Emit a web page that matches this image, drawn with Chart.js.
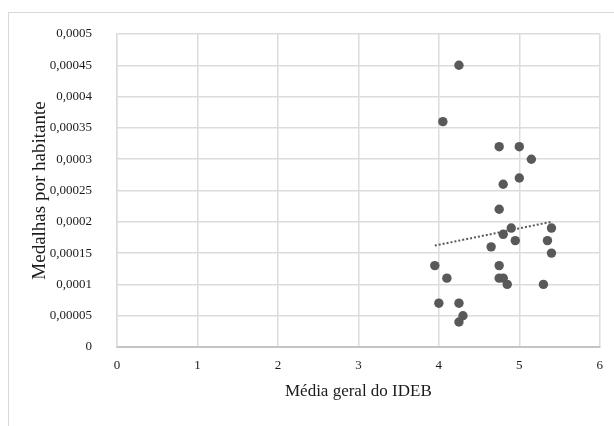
<!DOCTYPE html>
<html lang="en">
<head>
  <meta charset="UTF-8">
  <title>Medalhas por habitante x IDEB</title>
  <script src="https://cdn.jsdelivr.net/npm/chart.js@4"></script>
  <style>
    body { margin: 0; background: #fff; }
    #frame { position: absolute; left: 8px; top: 12px; width: 620px; height: 430px; border: 1px solid #d9d9d9; }
    #myChart { position: absolute; left: 0; top: 0; }
  </style>
</head>
<body>
  <div id="frame"></div>
  <canvas id="myChart" width="614" height="426"></canvas>

  <script>
    // pontos (media IDEB, medalhas por habitante)
    const ideb = [4.25, 4.05, 4.75, 5.0, 5.15, 5.0, 4.8, 4.75, 4.9, 4.8, 4.95, 4.65, 5.4,
                  5.35, 5.4, 3.95, 4.75, 4.1, 4.75, 4.8, 4.85, 5.3, 4.0, 4.25, 4.3, 4.25];
    const medalhas = [0.00045, 0.00036, 0.00032, 0.00032, 0.0003, 0.00027, 0.00026, 0.00022,
                      0.00019, 0.00018, 0.00017, 0.00016, 0.00019, 0.00017, 0.00015, 0.00013,
                      0.00013, 0.00011, 0.00011, 0.00011, 0.0001, 0.0001, 0.00007, 0.00007,
                      0.00005, 0.00004];

    // linha de tendencia
    const trendX = [3.95, 5.4];
    const trendY = [0.000162, 0.0002];

    const xTickLabels = ['0', '1', '2', '3', '4', '5', '6'];
    const yTickLabels = ['0', '0,00005', '0,0001', '0,00015', '0,0002', '0,00025',
                         '0,0003', '0,00035', '0,0004', '0,00045', '0,0005'];

    const points = ideb.map((x, i) => ({ x: x, y: medalhas[i] }));
    const trend = trendX.map((x, i) => ({ x: x, y: trendY[i] }));

    const config = {
      type: 'scatter',
      data: {
        datasets: [
          {
            type: 'line',
            data: trend,
            borderColor: '#595959',
            borderWidth: 2,
            borderDash: [2, 2],
            pointRadius: 0,
            fill: false
          },
          {
            data: points,
            backgroundColor: '#595959',
            borderColor: '#595959',
            pointRadius: 4.7,
            borderWidth: 0
          }
        ]
      },
      options: {
        responsive: false,
        animation: false,
        layout: { padding: { left: 0, right: 14, top: 34, bottom: 0 } },
        plugins: {
          legend: { display: false },
          tooltip: { enabled: false }
        },
        scales: {
          x: {
            type: 'linear',
            min: 0,
            max: 6,
            afterFit: scale => { scale.height = 79; },
            ticks: {
              stepSize: 1,
              padding: 11,
              color: '#1a1a1a',
              font: { family: 'Liberation Serif', size: 13 },
              callback: (v, i) => xTickLabels[i]
            },
            grid: { color: '#dcdcdc', lineWidth: 1.5, drawTicks: false },
            border: { color: '#c4c4c4', width: 2 },
            title: {
              display: true,
              text: 'Média geral do IDEB',
              color: '#1a1a1a',
              font: { family: 'Liberation Serif', size: 17 },
              padding: { top: 0, bottom: 23.8 }
            }
          },
          y: {
            min: 0,
            max: 0.0005,
            afterFit: scale => { scale.width = 117; },
            ticks: {
              stepSize: 0.00005,
              padding: 25,
              color: '#1a1a1a',
              font: { family: 'Liberation Serif', size: 13 },
              callback: (v, i) => yTickLabels[i]
            },
            grid: { color: '#dcdcdc', lineWidth: 1.5, drawTicks: false },
            border: { color: '#dcdcdc', width: 1.5 },
            title: {
              display: true,
              text: 'Medalhas por habitante',
              color: '#1a1a1a',
              font: { family: 'Liberation Serif', size: 19 },
              padding: { top: 28.6, bottom: 0 }
            }
          }
        }
      }
    };

    const ctx = document.getElementById('myChart').getContext('2d');
    new Chart(ctx, config);
  </script>
</body>
</html>
